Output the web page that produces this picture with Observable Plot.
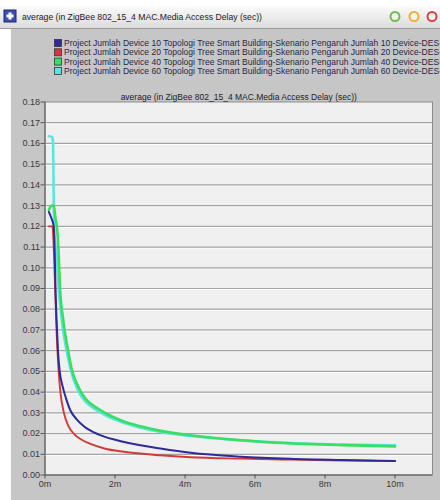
<!DOCTYPE html>
<html><head><meta charset="utf-8">
<script src="https://cdn.jsdelivr.net/npm/d3@7"></script>
<script src="https://cdn.jsdelivr.net/npm/@observablehq/plot@0.6"></script>
<style>
html,body{margin:0;padding:0;background:#fff;}
#root{position:relative;width:440px;height:500px;overflow:hidden;background:#fff;font-family:"Liberation Sans",Arial,sans-serif;}
#titlebar{position:absolute;left:0;top:6px;width:440px;height:22px;background:linear-gradient(#fbfbfb,#dcdcdc);border-bottom:1px solid #9a9a9a;}
#panel{position:absolute;left:11px;top:29px;width:429px;height:471px;background:#c6c6c6;}
#hdr{position:absolute;left:0;top:0;}
#chart{position:absolute;left:11px;top:80px;}
</style></head>
<body><div id="root">
<div id="titlebar"></div>
<div id="panel"></div>
<svg id="hdr" width="440" height="80"></svg>
<div id="chart"></div>
</div>
<script>
// ---- data ----
const windowTitle = "average (in ZigBee 802_15_4 MAC.Media Access Delay (sec))";
const plotTitle = "average (in ZigBee 802_15_4 MAC.Media Access Delay (sec))";
const seriesNames = [
  "Project Jumlah Device 10 Topologi Tree Smart Building-Skenario Pengaruh Jumlah 10 Device-DES-",
  "Project Jumlah Device 20 Topologi Tree Smart Building-Skenario Pengaruh Jumlah 20 Device-DES-",
  "Project Jumlah Device 40 Topologi Tree Smart Building-Skenario Pengaruh Jumlah 40 Device-DES-",
  "Project Jumlah Device 60 Topologi Tree Smart Building-Skenario Pengaruh Jumlah 60 Device-DES-"
];
const seriesColors = ["#2b2b9c", "#d23a3a", "#3ade62", "#5ce4e4"];
const tBlue = [0.11, 0.18, 0.25, 0.28, 0.3, 0.33, 0.37, 0.42, 0.5, 0.6, 0.73, 0.9, 1.11, 1.54, 2.0, 2.35, 3.3, 4.16, 5.6, 7, 8.5, 10];
const vBlue = [0.127, 0.124, 0.12, 0.105, 0.09, 0.075, 0.06, 0.05, 0.043, 0.037, 0.031, 0.027, 0.0235, 0.0195, 0.017, 0.0156, 0.0128, 0.0107, 0.0088, 0.0078, 0.0072, 0.0068];
const tRed = [0.11, 0.21, 0.25, 0.29, 0.33, 0.39, 0.44, 0.54, 0.66, 0.82, 1.05, 1.3, 1.7, 2.25, 3.3, 4.16, 5.6, 7, 8.5, 10];
const vRed = [0.12, 0.12, 0.11, 0.09, 0.07, 0.05, 0.04, 0.03, 0.024, 0.02, 0.017, 0.015, 0.0128, 0.0112, 0.0095, 0.0086, 0.0079, 0.0074, 0.007, 0.0067];
const tGreen = [0.11, 0.2, 0.25, 0.3, 0.35, 0.39, 0.43, 0.52, 0.66, 0.78, 0.9, 1.0, 1.15, 1.3, 1.5, 1.73, 2.2, 2.73, 3.3, 4.16, 5.6, 7, 8.5, 10];
const vGreen = [0.128, 0.13, 0.13, 0.124, 0.118, 0.107, 0.09, 0.075, 0.06, 0.05, 0.0445, 0.041, 0.037, 0.0345, 0.0322, 0.0298, 0.0262, 0.0235, 0.0213, 0.0192, 0.0168, 0.0153, 0.0144, 0.0138];
const tCyan = [0.11, 0.21, 0.23, 0.26, 0.33, 0.4, 0.5, 0.64, 0.78, 0.9, 1.0, 1.15, 1.3, 1.5, 1.73, 2.2, 2.73, 3.3, 4.16, 5.6, 7, 8.5, 10];
const vCyan = [0.1635, 0.163, 0.16, 0.12, 0.105, 0.088, 0.072, 0.058, 0.048, 0.0425, 0.039, 0.0355, 0.0333, 0.031, 0.0288, 0.0254, 0.0228, 0.0208, 0.0188, 0.0167, 0.0154, 0.0147, 0.0143];
const xTicks = [0, 2, 4, 6, 8, 10];
const yTicks = [0, 0.01, 0.02, 0.03, 0.04, 0.05, 0.06, 0.07, 0.08, 0.09, 0.10, 0.11, 0.12, 0.13, 0.14, 0.15, 0.16, 0.17, 0.18];

const mk = (ts, vs) => ts.map((t, i) => ({t, v: vs[i]}));
const blue = mk(tBlue, vBlue), red = mk(tRed, vRed), green = mk(tGreen, vGreen), cyan = mk(tCyan, vCyan);

// ---- header (window title bar + legend) ----
const NS = "http://www.w3.org/2000/svg";
const hdr = document.getElementById("hdr");
function el(tag, attrs, text) {
  const e = document.createElementNS(NS, tag);
  for (const k in attrs) e.setAttribute(k, attrs[k]);
  if (text != null) e.textContent = text;
  hdr.appendChild(e);
  return e;
}
el("rect", {x: 4, y: 10, width: 12, height: 12, fill: "#3a4fb0", stroke: "#1c2670"});
el("rect", {x: 8.5, y: 12.5, width: 3, height: 7, fill: "#fff"});
el("rect", {x: 6.5, y: 14.5, width: 7, height: 3, fill: "#fff"});
el("text", {x: 22, y: 19.5, "font-size": 9, fill: "#222", textLength: 240, lengthAdjust: "spacingAndGlyphs"}, windowTitle);
[["#6cc04a", 395], ["#f0b030", 414], ["#e04040", 432]].forEach(([c, x]) => {
  el("circle", {cx: x, cy: 16.5, r: 4.5, fill: "#f4f4f4", stroke: c, "stroke-width": 2});
});
seriesNames.forEach((name, i) => {
  const y = 43 + i * 9.3;
  el("rect", {x: 54.5, y: y - 3.5, width: 7, height: 7, fill: seriesColors[i], stroke: "#333", "stroke-width": 0.8});
  el("text", {x: 64, y: y + 3, "font-size": 8.5, fill: "#26264a", textLength: 378, lengthAdjust: "spacingAndGlyphs"}, name);
});

// ---- chart ----
const W = 429, H = 420;
const chart = Plot.plot({
  width: W, height: H,
  marginLeft: 33.5, marginRight: 8, marginTop: 21.5, marginBottom: 25.5,
  style: {background: "transparent", fontFamily: "Liberation Sans, Arial, sans-serif", fontSize: "9px", color: "#3a3a3a"},
  x: {domain: [0, 11.07], ticks: xTicks, tickFormat: d => d + "m", label: null, tickSize: 4, tickPadding: 2},
  y: {domain: [0, 0.18], ticks: yTicks, tickFormat: d => d.toFixed(2), label: null, tickSize: 4, tickPadding: 1},
  marks: [
    Plot.frame({fill: "#f0f0f0", stroke: "#8c8c8c"}),
    Plot.ruleY(yTicks.slice(1, -1), {stroke: "#ffffff", strokeWidth: 1, dy: 1}),
    Plot.ruleY(yTicks.slice(1, -1), {stroke: "#a4a4a4", strokeWidth: 1.2}),
    Plot.ruleX([0], {stroke: "#555"}),
    Plot.ruleY([0], {stroke: "#555"}),
    Plot.text([plotTitle], {frameAnchor: "top", dy: -8, fontSize: 8.5, fill: "#222", textLength: 242}),
    Plot.line(cyan, {x: "t", y: "v", stroke: seriesColors[3], strokeWidth: 2.6, curve: "monotone-x"}),
    Plot.line(green, {x: "t", y: "v", stroke: seriesColors[2], strokeWidth: 2.6, curve: "monotone-x"}),
    Plot.line(red, {x: "t", y: "v", stroke: seriesColors[1], strokeWidth: 1.9, curve: "monotone-x"}),
    Plot.line(blue, {x: "t", y: "v", stroke: seriesColors[0], strokeWidth: 2, curve: "monotone-x"}),
    Plot.axisX({ticks: xTicks, tickFormat: d => d + "m", tickSize: 4, tickPadding: 2, label: null, stroke: "#555"}),
    Plot.axisY({ticks: yTicks, tickFormat: d => d.toFixed(2), tickSize: 4, tickPadding: 1, label: null, stroke: "#555"})
  ]
});
document.getElementById("chart").appendChild(chart);
</script>
</body></html>
